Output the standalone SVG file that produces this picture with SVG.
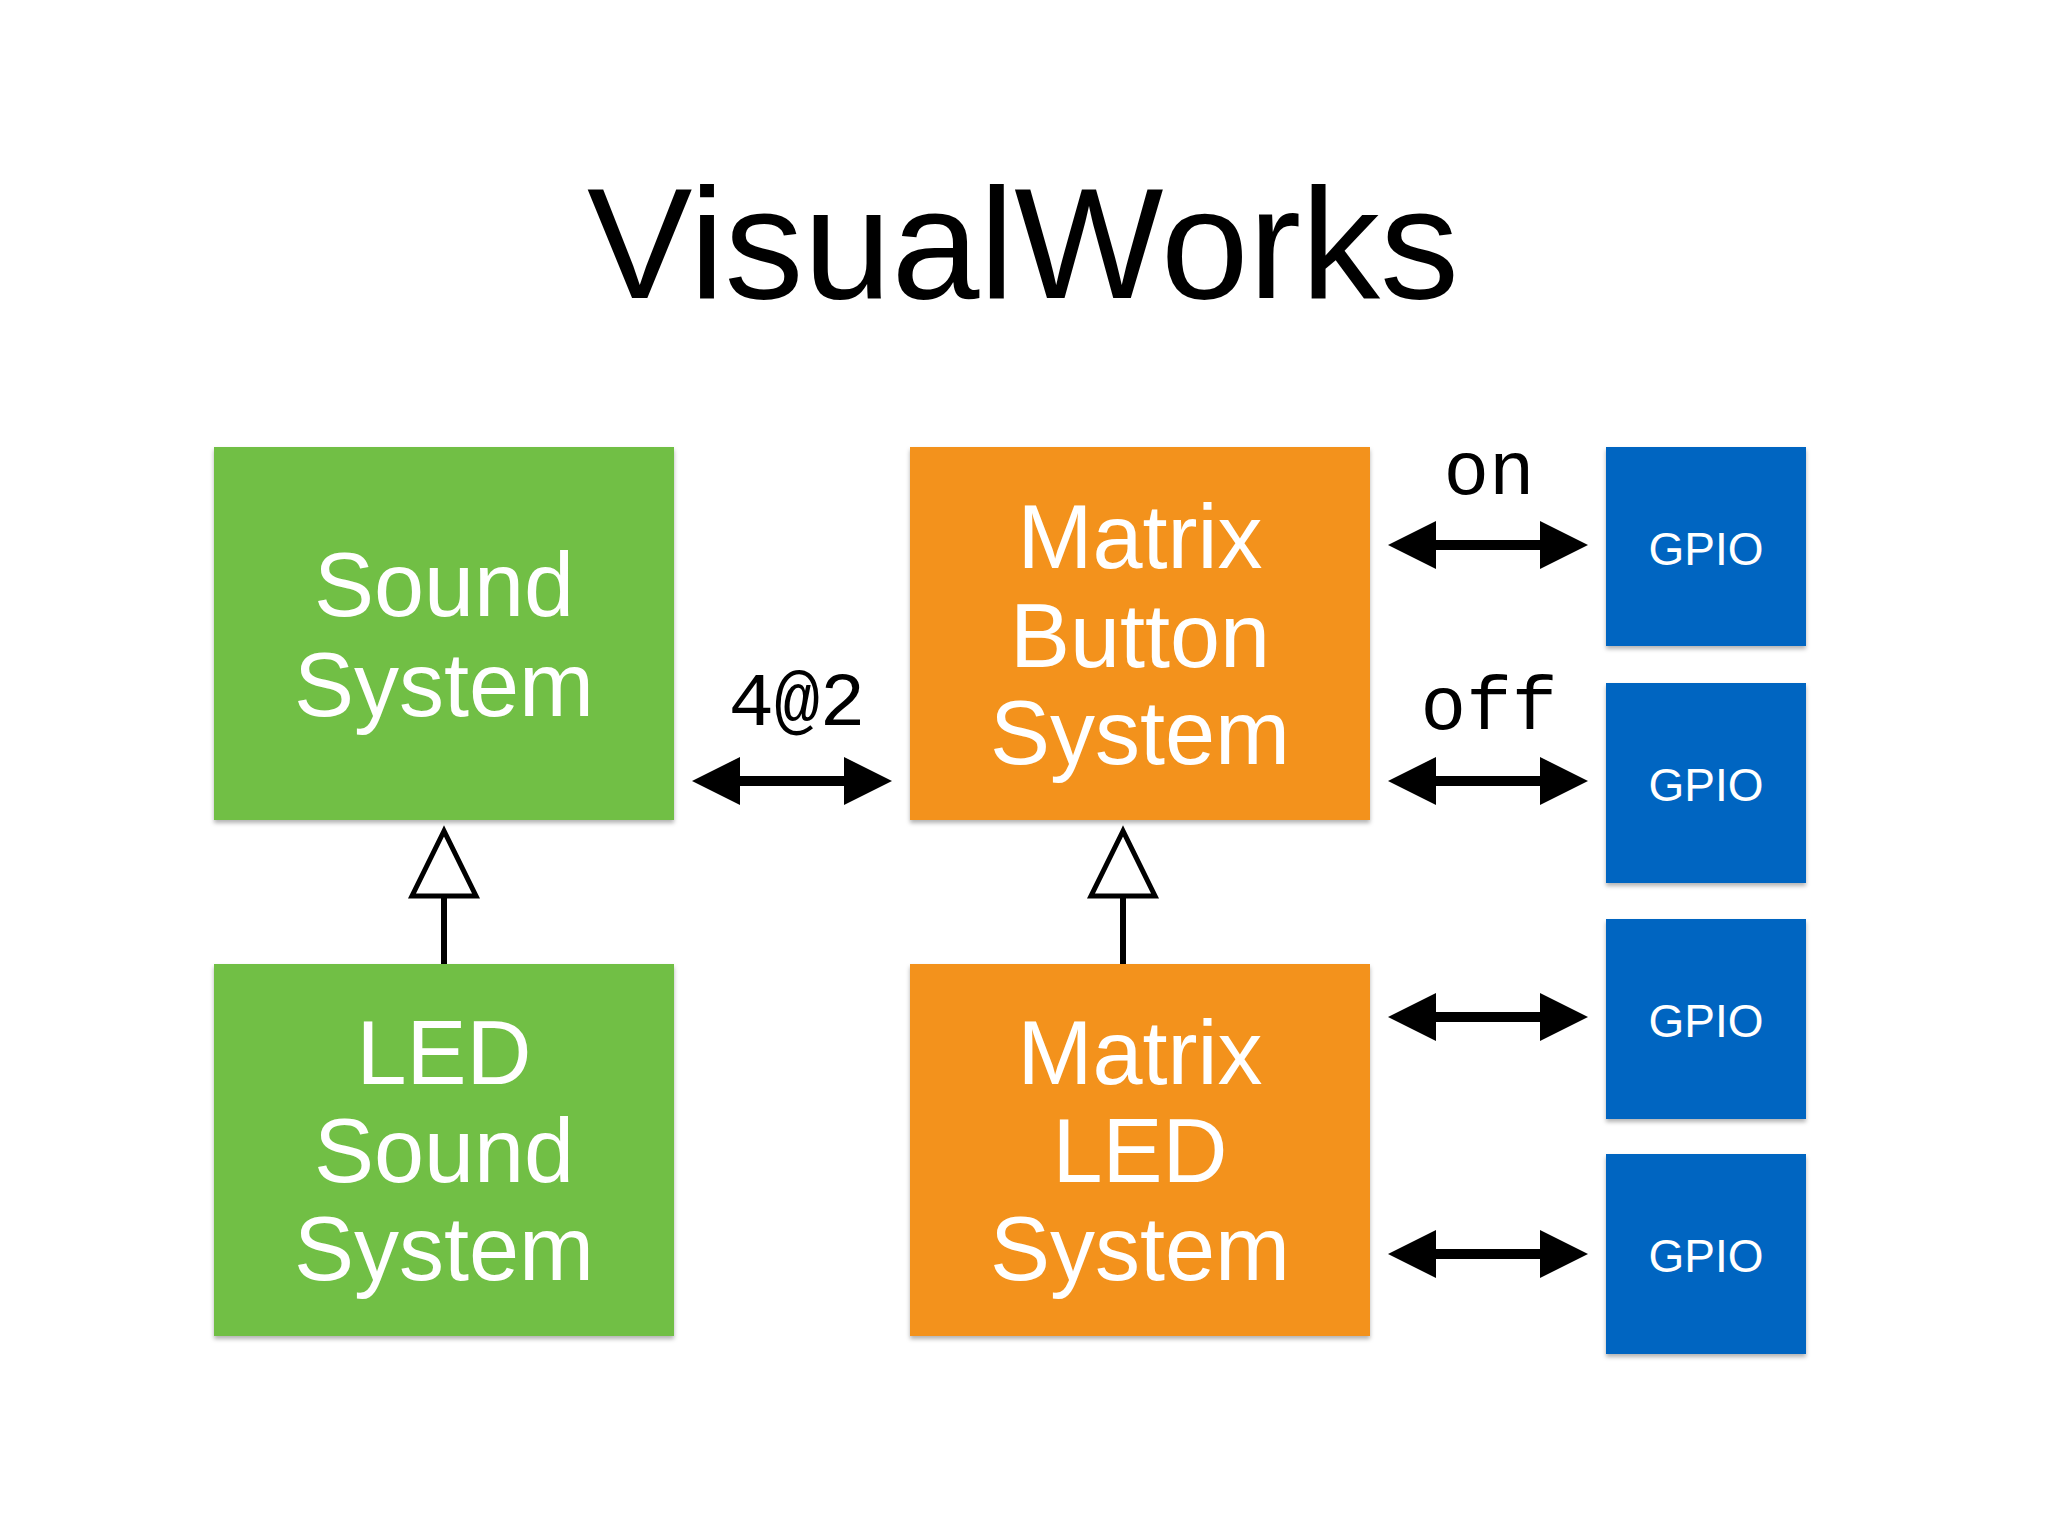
<svg xmlns="http://www.w3.org/2000/svg" width="2048" height="1536" viewBox="0 0 2048 1536">
<style>
.g{fill:#71bf45}.o{fill:#f3921f}.b{fill:#0565c1}
.t{font-family:"Liberation Sans",Arial,sans-serif;fill:#fff;text-anchor:middle;font-size:90px}
.gt{font-family:"Liberation Sans",Arial,sans-serif;fill:#fff;text-anchor:middle;font-size:46px}
.m{font-family:"Liberation Mono","DejaVu Sans Mono",monospace;fill:#000;text-anchor:middle;font-size:76px}
.s{stroke:#000;stroke-width:10;fill:none}
</style>
<defs>
<filter id="sh"><feDropShadow dx="0" dy="3" stdDeviation="2" flood-opacity="0.3"/></filter>
<g id="da"><line x1="40" y1="0" x2="160" y2="0" class="s"/><polygon points="0,0 48,-24 48,24"/><polygon points="200,0 152,-24 152,24"/></g>
</defs>
<rect width="2048" height="1536" fill="#fff"/>
<text x="1023" y="298" font-family="Liberation Sans,Arial,sans-serif" font-size="158" text-anchor="middle">VisualWorks</text>
<g id="sound"><rect x="214" y="447" width="460" height="373" class="g" filter="url(#sh)"/><text class="t"><tspan x="444" y="616">Sound</tspan><tspan x="444" y="716">System</tspan></text></g>
<g id="ledsound"><rect x="214" y="964" width="460" height="372" class="g" filter="url(#sh)"/><text class="t"><tspan x="444" y="1084">LED</tspan><tspan x="444" y="1182">Sound</tspan><tspan x="444" y="1280">System</tspan></text></g>
<g id="mbutton"><rect x="910" y="447" width="460" height="373" class="o" filter="url(#sh)"/><text class="t"><tspan x="1140" y="568">Matrix</tspan><tspan x="1140" y="667">Button</tspan><tspan x="1140" y="764">System</tspan></text></g>
<g id="mled"><rect x="910" y="964" width="460" height="372" class="o" filter="url(#sh)"/><text class="t"><tspan x="1140" y="1084">Matrix</tspan><tspan x="1140" y="1182">LED</tspan><tspan x="1140" y="1280">System</tspan></text></g>
<g id="gpio1"><rect x="1606" y="447" width="200" height="199" class="b" filter="url(#sh)"/><text class="gt" x="1706" y="565">GPIO</text></g>
<g id="gpio2"><rect x="1606" y="683" width="200" height="200" class="b" filter="url(#sh)"/><text class="gt" x="1706" y="801">GPIO</text></g>
<g id="gpio3"><rect x="1606" y="919" width="200" height="200" class="b" filter="url(#sh)"/><text class="gt" x="1706" y="1037">GPIO</text></g>
<g id="gpio4"><rect x="1606" y="1154" width="200" height="200" class="b" filter="url(#sh)"/><text class="gt" x="1706" y="1272">GPIO</text></g>
<g id="connectors">
<use href="#da" x="692" y="781"/>
<use href="#da" x="1388" y="545"/>
<use href="#da" x="1388" y="781"/>
<use href="#da" x="1388" y="1017"/>
<use href="#da" x="1388" y="1254"/>
<line x1="444" y1="964" x2="444" y2="896" stroke="#000" stroke-width="6"/>
<polygon points="444,831 412,896 476,896" fill="#fff" stroke="#000" stroke-width="5"/>
<line x1="1123" y1="964" x2="1123" y2="896" stroke="#000" stroke-width="6"/>
<polygon points="1123,831 1091,896 1155,896" fill="#fff" stroke="#000" stroke-width="5"/>
<text class="m" x="797" y="725">4@2</text>
<text class="m" x="1489" y="494">on</text>
<text class="m" x="1489" y="729">off</text>
</g>
</svg>
